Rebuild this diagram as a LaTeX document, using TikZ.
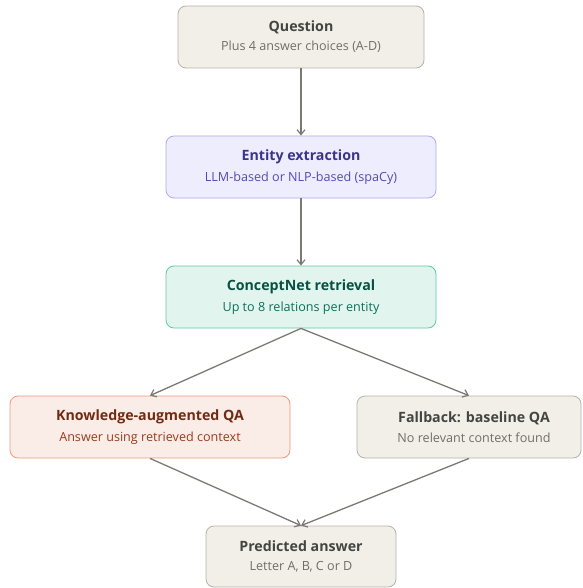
\documentclass[tikz,border=0pt]{standalone}
\usepackage{fontspec}
\setmainfont{Open Sans}
\usetikzlibrary{arrows.meta}
\definecolor{grayfill}{HTML}{F1EFE8}
\definecolor{grayline}{HTML}{B4B2A9}
\definecolor{graytitle}{HTML}{444441}
\definecolor{graysub}{HTML}{6F6E69}
\definecolor{purpfill}{HTML}{EEEDFE}
\definecolor{purpline}{HTML}{AFA9EC}
\definecolor{purptitle}{HTML}{3C3489}
\definecolor{purpsub}{HTML}{534AB7}
\definecolor{tealfill}{HTML}{E1F5EE}
\definecolor{tealline}{HTML}{5DCAA5}
\definecolor{tealtitle}{HTML}{085041}
\definecolor{tealsub}{HTML}{0F6E56}
\definecolor{coralfill}{HTML}{FAECE7}
\definecolor{coralline}{HTML}{F0997B}
\definecolor{coraltitle}{HTML}{712B13}
\definecolor{coralsub}{HTML}{993C1D}
\definecolor{arrowgray}{HTML}{7A7973}
\tikzset{
  x=1pt,y=-1pt,
  boxstyle/.style={draw, line width=0.8pt, rounded corners=8pt, inner sep=0pt, align=center},
  graybox/.style={boxstyle, fill=grayfill, draw=grayline},
  purpbox/.style={boxstyle, fill=purpfill, draw=purpline},
  tealbox/.style={boxstyle, fill=tealfill, draw=tealline},
  coralbox/.style={boxstyle, fill=coralfill, draw=coralline},
  flow/.style={draw=arrowgray, line width=1.3pt, -{Straight Barb[length=5pt,width=8pt,line width=1.2pt]}},
}
\newcommand{\boxtxt}[4]{{\fontsize{14.2}{17}\selectfont\bfseries\color{#1}#3}\\[7pt]{\fontsize{12.6}{15}\selectfont\color{#2}#4}}
\begin{document}
\begin{tikzpicture}
\useasboundingbox (0,0) rectangle (582,588);
\node[graybox, minimum width=246pt, minimum height=62pt] (q) at (301,37)
  {\boxtxt{graytitle}{graysub}{Question}{Plus 4 answer choices (A-D)}};
\node[purpbox, minimum width=270pt, minimum height=62pt] (e) at (301,167)
  {\boxtxt{purptitle}{purpsub}{Entity extraction}{LLM-based or NLP-based (spaCy)}};
\node[tealbox, minimum width=270pt, minimum height=62pt] (c) at (301,297)
  {\boxtxt{tealtitle}{tealsub}{ConceptNet retrieval}{Up to 8 relations per entity}};
\node[coralbox, minimum width=280pt, minimum height=62pt] (k) at (150,427)
  {\boxtxt{coraltitle}{coralsub}{Knowledge-augmented QA}{Answer using retrieved context}};
\node[graybox, minimum width=224pt, minimum height=62pt] (f) at (469,427)
  {\hspace*{10pt}\boxtxt{graytitle}{graysub}{Fallback: baseline QA}{\hspace*{10pt}No relevant context found}};
\node[graybox, minimum width=190pt, minimum height=61pt] (p) at (301,556.5)
  {\boxtxt{graytitle}{graysub}{Predicted answer}{Letter A, B, C or D}};
\draw[flow] (q.south) -- (e.north);
\draw[flow] (e.south) -- (c.north);
\draw[flow] (c.south) -- (k.north);
\draw[flow] (c.south) -- (f.north);
\draw[flow] (k.south) -- (p.north);
\draw[flow] (f.south) -- (p.north);
\end{tikzpicture}
\end{document}
